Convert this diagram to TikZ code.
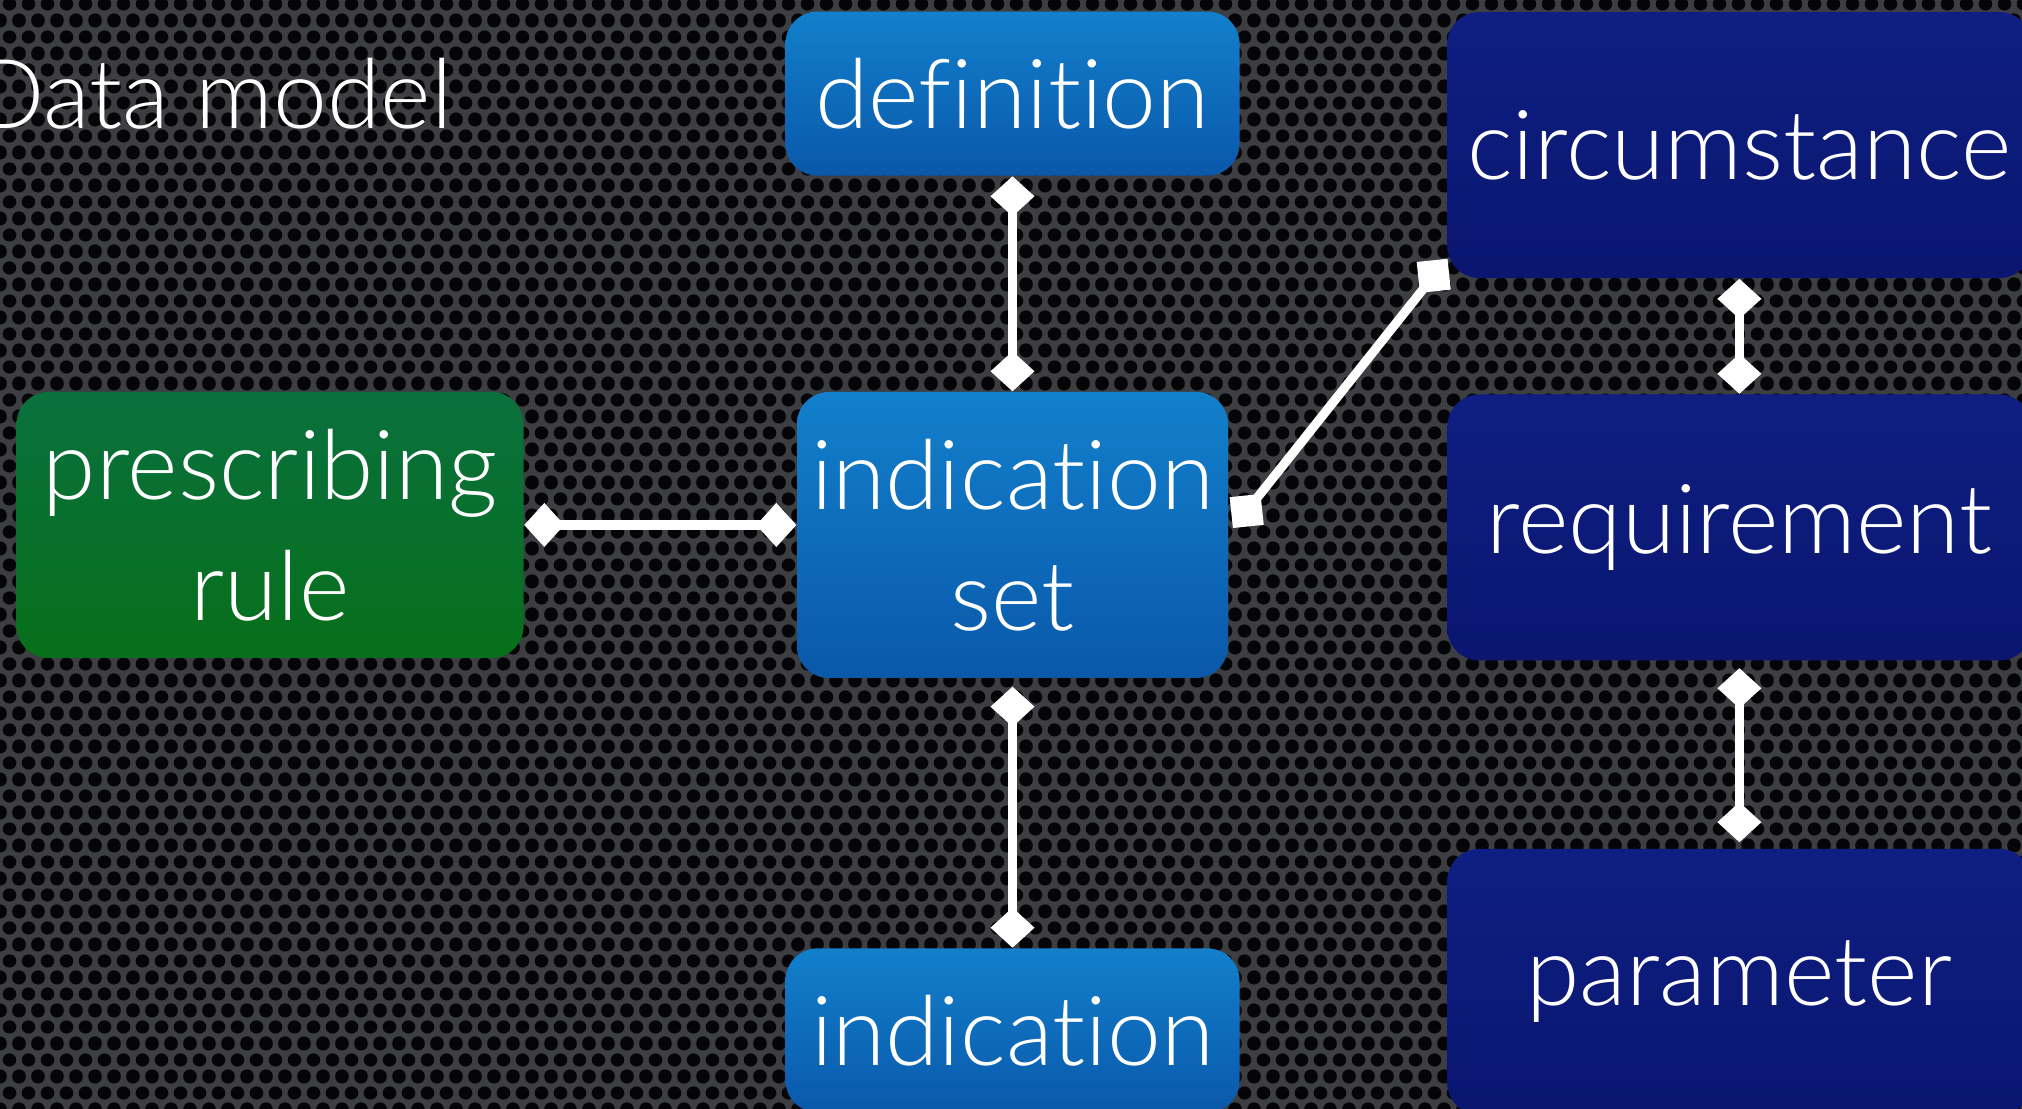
\documentclass[tikz,border=0pt]{standalone}
\usepackage{fontspec}
\setmainfont{Lato Light}[Ligatures=NoCommon]
\usetikzlibrary{arrows.meta,positioning,patterns.meta}
\definecolor{Board}{RGB}{60,62,66}
\definecolor{Hole}{RGB}{5,5,7}
\definecolor{SkyTop}{RGB}{18,128,204}
\definecolor{SkyBot}{RGB}{10,88,170}
\definecolor{NavyTop}{RGB}{14,30,130}
\definecolor{NavyBot}{RGB}{10,22,112}
\definecolor{LeafTop}{RGB}{10,112,62}
\definecolor{LeafBot}{RGB}{6,112,26}
\tikzdeclarepattern{
  name=perforation,
  type=uncolored,
  bounding box={(0,0) and (1.9mm,3.3mm)},
  tile size={(1.9mm,3.3mm)},
  code={
    \foreach \hx/\hy in {0/0,1.9/0,0/3.3,1.9/3.3,0.95/1.65}
      \fill (\hx mm,\hy mm) circle (0.68mm);
  }
}
\tikzset{
  card/.style={rounded corners=3.2mm,inner sep=0pt,align=center,text=white,font=\fontsize{27.5}{34.5}\selectfont},
  sky/.style={card,top color=SkyTop,bottom color=SkyBot},
  navy/.style={card,top color=NavyTop,bottom color=NavyBot,minimum width=58.4mm,minimum height=26.6mm},
  leaf/.style={card,top color=LeafTop,bottom color=LeafBot},
  link/.style={{Diamond[length=4mm,width=4.4mm]}-{Diamond[length=4mm,width=4.4mm]},line width=2.6pt,draw=white},
  plain/.style={line width=2.6pt,draw=white},
}

\begin{document}
\begin{tikzpicture}
  % --- backdrop ---
  \fill[Board] (0,0) rectangle (20.22,-11.09);
  \fill[pattern=perforation,pattern color=Hole] (0,0) rectangle (20.22,-11.09);
  \useasboundingbox (0,0) rectangle (20.22,-11.09);

  \node[text=white, font=\fontsize{27.5}{32}\selectfont, inner sep=0pt, anchor=base east] (title) at (4.53,-1.29) {Data model};

  % --- middle column ---
  \node[sky, minimum width=43.1mm, minimum height=28.6mm] (indset) at (10.125,-5.35) {indication\\set};
  \node[sky, minimum width=45.4mm, minimum height=16.4mm, above=21.5mm of indset] (def) {definition};
  \node[sky, minimum width=45.4mm, minimum height=16.4mm, below=26.9mm of indset] (ind) {indication};
  \node[leaf, minimum width=50.7mm, minimum height=26.6mm, left=27.2mm of indset, yshift=1mm] (rule) {prescribing\\rule};

  % --- right column ---
  \node[navy, right=21.8mm of indset, yshift=0.75mm] (req) {requirement};
  \node[navy, above=11.5mm of req] (circ) {circumstance};
  \node[navy, below=18.7mm of req] (param) {parameter};

  \draw[link] (def) -- (indset);
  \draw[link] (rule.east) -- (rule.east -| indset.west);
  \draw[link, shorten <=0.8mm] (indset) -- (ind);
  \draw[link] (circ) -- (req);
  \draw[link, shorten <=0.7mm, shorten >=0.6mm] (req) -- (param);

  % square-ended link to circumstance
  \coordinate (sqA) at ([xshift=1.8mm,yshift=2.4mm]indset.east);
  \coordinate (sqB) at ([xshift=-1.3mm,yshift=0.3mm]circ.south west);
  \draw[plain] (sqA) -- (sqB);
  \foreach \sq in {sqA,sqB}
    \fill[white, rotate around={6:(\sq)}] ([shift={(-1.55mm,-1.55mm)}]\sq) rectangle ([shift={(1.55mm,1.55mm)}]\sq);
\end{tikzpicture}
\end{document}
